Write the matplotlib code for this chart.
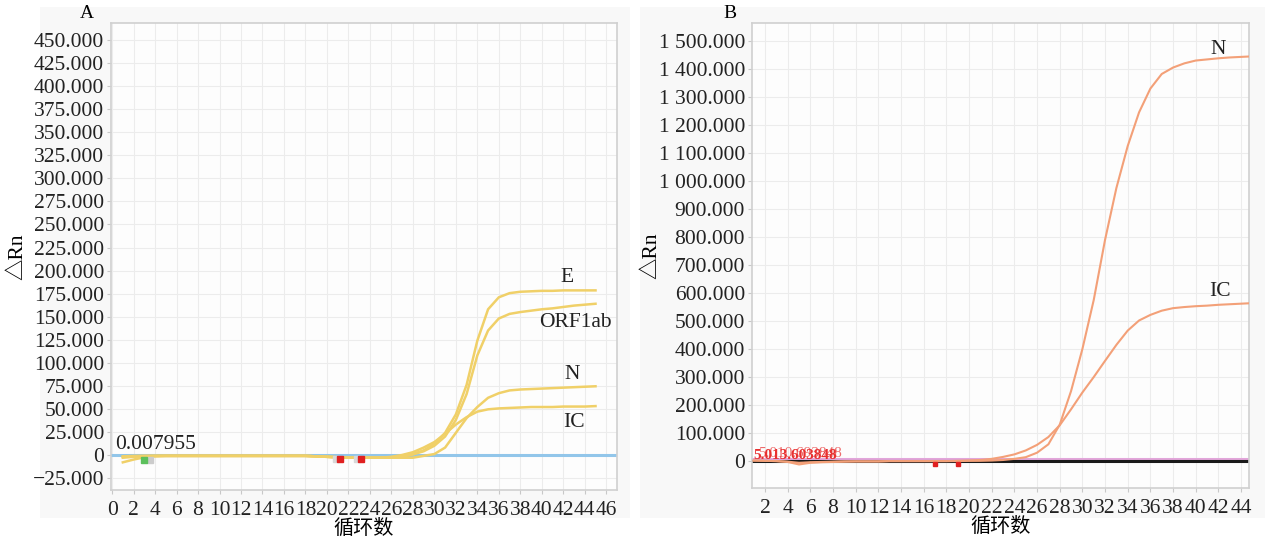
import numpy as np
import matplotlib
matplotlib.use('Agg')
import matplotlib.pyplot as plt
import matplotlib.patches as mpatches
from matplotlib.ticker import FuncFormatter

plt.rcParams['font.family'] = ['Liberation Serif', 'Noto Sans CJK SC', 'DejaVu Sans']

# ── Data panel A (cycles 1..45) ─────────────────────────────
cycles = list(range(1, 46))
a_E = [-8, -5, -2.5, -1.5, -1, -1, -1, -1, -1, -1,
       -1, -1, -1, -1, -1, -1, -1, -1, -1.5, -2,
       -2.5, -3, -3, -3, -3, -2.5, -1, 1, 5, 12,
       24, 44, 76, 124, 158, 171, 175.5, 177, 177.5, 178,
       178, 178.5, 178.5, 178.5, 178.5]
a_ORF1ab = [-2, -1.5, -1, -1, -1, -1, -1, -1, -1, -1,
            -1, -1, -1, -1, -1, -1, -1, -1, -1.5, -2,
            -2.5, -3, -3, -3, -3, -3, -2, 0.5, 4, 10,
            20, 38, 66, 108, 135, 148, 153, 155, 156.5, 158,
            159, 160.5, 162, 163, 164]
a_N = [-1.5, -1, -1, -1, -1, -1, -1, -1, -1, -1,
       -1, -1, -1, -1, -1, -1, -1, -1, -1.5, -2,
       -2.5, -3, -3, -3, -3, -3, -3, -3, -1, 1,
       8, 24, 40, 52, 62, 67, 70, 71, 71.5, 72,
       72.5, 73, 73.5, 74, 74.5]
a_IC = [-3, -2, -1.5, -1, -1, -1, -1, -1, -1, -1,
        -1, -1, -1, -1, -1, -1, -1, -1, -1.5, -2,
        -2.5, -3, -3, -3, -3, -2, 0, 3, 8, 14,
        23, 33, 41, 47, 49.5, 50.5, 51, 51.5, 52, 52,
        52, 52.5, 52.5, 52.5, 53]
a_threshold = 0.007955
a_labels = ['E', 'ORF1ab', 'N', 'IC']
a_label_pos = [(42.3, 193), (43.1, 144), (42.8, 87), (43.0, 35)]
a_yticks = [-25, 0, 25, 50, 75, 100, 125, 150, 175, 200, 225, 250, 275,
            300, 325, 350, 375, 400, 425, 450]
a_xticks = list(range(0, 47, 2))

# ── Data panel B ───────────────────────────────────────────
b_N = [2, 1, 0, -3, -12, -6, -4, -3, -2, -1,
       -1, -1, 0, 0, 0, 0, 0, 0, 0, 1,
       1, 2, 4, 8, 14, 30, 60, 130, 250, 400,
       575, 790, 975, 1125, 1245, 1330, 1382, 1405, 1420, 1430,
       1434, 1438, 1441, 1443, 1445]
b_IC = [2, 1, 0, -2, -6, -4, -3, -2, -1, -1,
        -1, -1, 0, 0, 0, 0, 0, 0, 1, 2,
        4, 8, 15, 24, 38, 58, 86, 128, 185, 245,
        300, 358, 415, 466, 502, 522, 537, 546, 550, 553,
        555, 558, 560, 562, 564]
b_labels = ['N', 'IC']
b_label_pos = [(42.0, 1468), (42.1, 604)]
b_yticks = list(range(0, 1501, 100))
b_xticks = list(range(2, 45, 2))

W, H = 1265, 541
fig = plt.figure(figsize=(W / 100, H / 100), dpi=100)
fig.patch.set_facecolor('white')

# light grey panel backgrounds
for x0, x1 in [(40, 630), (640, 1265)]:
    fig.patches.append(mpatches.Rectangle((x0 / W, 1 - 518 / H), (x1 - x0) / W, (518 - 7) / H,
                                          transform=fig.transFigure, facecolor='#f8f8f8',
                                          edgecolor='none', zorder=-5))

axA = fig.add_axes([111 / W, 1 - 490 / H, (617 - 111) / W, (490 - 23) / H])
axB = fig.add_axes([752 / W, 1 - 488 / H, (1249 - 752) / W, (488 - 23) / H])

tick_fs = 15.5


def style(ax):
    ax.set_facecolor('#fdfdfd')
    for s in ax.spines.values():
        s.set_color('#d0d0d0')
        s.set_linewidth(1.2)
    ax.grid(True, color='#ececec', linewidth=0.8)
    ax.set_axisbelow(True)
    ax.tick_params(length=3, color='#c8c8c8', labelsize=tick_fs, pad=2,
                   labelcolor='#222222')
    ax.tick_params(axis='x', pad=5)


def fmt_a(v, pos):
    if v == 0:
        return '0'
    s = '{:.3f}'.format(abs(v))
    return ('\u2212' if v < 0 else '') + s


def fmt_b(v, pos):
    if v == 0:
        return '0'
    s = '{:,.3f}'.format(v).replace(',', ' ')
    return s


# Panel A
style(axA)
for ys in [a_E, a_ORF1ab, a_N, a_IC]:
    axA.plot(cycles, ys, color='#f0d068', linewidth=1.8, zorder=3,
             solid_joinstyle='round')
axA.axhline(a_threshold, color='#92c6ea', linewidth=2.2, zorder=2)
axA.text(0.3, 6, '0.007955', fontsize=tick_fs, color='#222222')
axA.plot([3], [-5], marker='s', color='#5cc05c', markersize=5, zorder=4)
axA.plot([3.5], [-5], marker='s', color='#cccccc', markersize=4, zorder=3)
for cx in [21.2, 23.2]:
    axA.plot([cx - 0.4], [-4], marker='s', color='#d8d8d8', markersize=4, zorder=3)
    axA.plot([cx], [-4], marker='s', color='#e02020', markersize=4, zorder=4)
for lab, (lx, ly) in zip(a_labels, a_label_pos):
    axA.text(lx, ly, lab, fontsize=tick_fs, ha='center', va='center', color='#222222')
axA.set_xlim(-0.1, 47)
axA.set_ylim(-38, 468.5)
axA.set_xticks(a_xticks)
axA.set_yticks(a_yticks)
axA.yaxis.set_major_formatter(FuncFormatter(fmt_a))
axA.set_xlabel('循环数', fontsize=14.5, labelpad=0)
axA.set_ylabel('△Rn', fontsize=tick_fs, labelpad=4)

# Panel B
style(axB)
for ys in [b_N, b_IC]:
    axB.plot(cycles, ys, color='#f3a078', linewidth=1.5, zorder=3,
             solid_joinstyle='round')
axB.axhline(7, color='#e2a6da', linewidth=2.2, zorder=2)
axB.axhline(0, color='#1a1a1a', linewidth=2.2, zorder=2)
axB.text(1.0, 8, '5.013.603848', fontsize=11, color='#e83030', zorder=5,
         fontweight='bold')
axB.text(1.4, 14, '5.010.693848', fontsize=11, color='#e83030', alpha=0.7, zorder=5)
for cx in [17, 19]:
    axB.plot([cx], [-10], marker='s', color='#e02020', markersize=3, zorder=4)
for lab, (lx, ly) in zip(b_labels, b_label_pos):
    axB.text(lx, ly, lab, fontsize=tick_fs, ha='center', va='center', color='#222222')
axB.set_xlim(0.85, 44.7)
axB.set_ylim(-96, 1564)
axB.set_xticks(b_xticks)
axB.set_yticks(b_yticks)
axB.yaxis.set_major_formatter(FuncFormatter(fmt_b))
axB.set_xlabel('循环数', fontsize=14.5, labelpad=0)
axB.set_ylabel('△Rn', fontsize=tick_fs, labelpad=-2)

fig.text(87 / W, 1 - 14 / H, 'A', fontsize=14, ha='center', va='center')
fig.text(730 / W, 1 - 14 / H, 'B', fontsize=14, ha='center', va='center')

plt.savefig('out.png', dpi=100)
